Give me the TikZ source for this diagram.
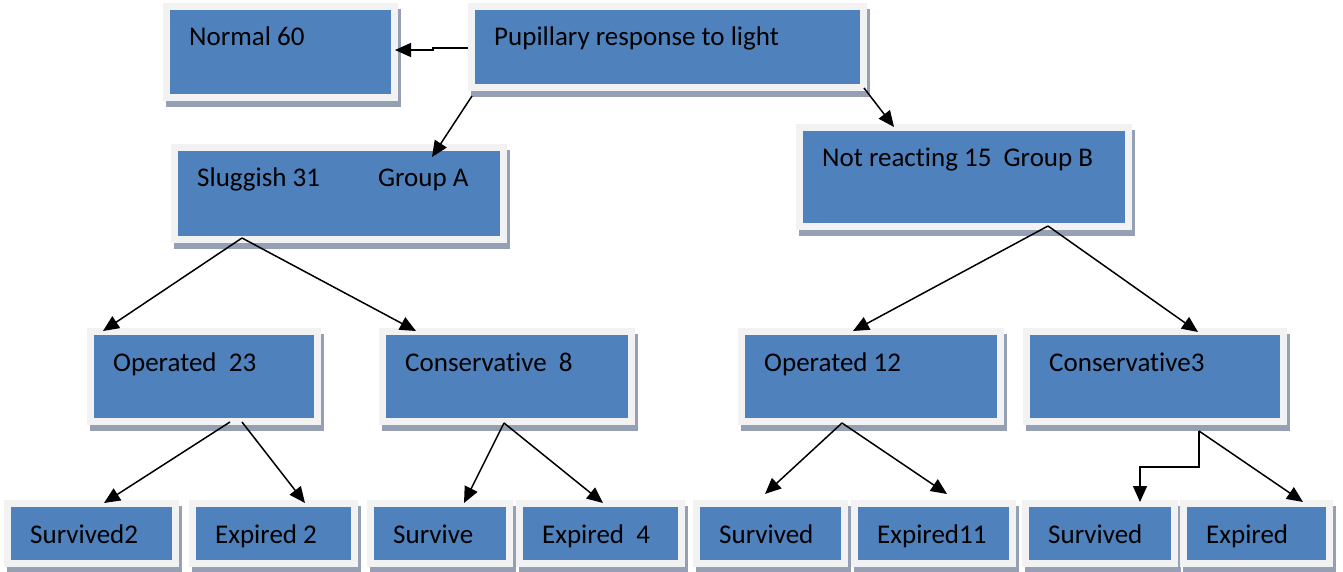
\documentclass[tikz,border=0pt]{standalone}
\usepackage{fontspec}
\setmainfont{Carlito}[RawFeature=-liga]
\usetikzlibrary{arrows.meta}
\definecolor{boxblue}{RGB}{79,129,189}
\definecolor{framegray}{RGB}{242,242,242}
\definecolor{shadowc}{RGB}{150,160,180}
\tikzset{
  framebox/.style={rectangle, fill=framegray, draw=none, inner sep=0pt, outer sep=0pt,
    path picture={\fill[boxblue] ([shift={(7pt,-7pt)}]path picture bounding box.north west)
      rectangle ([shift={(-7pt,7pt)}]path picture bounding box.south east);}},
  lbl/.style={anchor=base west, inner sep=0pt, font=\fontsize{27}{32}\selectfont, text=black},
  conn/.style={-{Triangle[length=16pt,width=14pt]}, line width=1.5pt, black}
}
\newcommand\diabox[6]{%
  \fill[shadowc] (#2+3,#3+6) rectangle (#4+3,#5+6);
  \node[framebox, minimum width={(#4-#2)*1pt}, minimum height={(#5-#3)*1pt}] (#1) at ({(#2+#4)/2},{(#3+#5)/2}) {};
  \node[lbl] (#1-t) at ([shift={(26,43)}]#1.north west) {#6};
}
\begin{document}
\begin{tikzpicture}[x=1pt,y=-1pt]
\useasboundingbox[fill=white] (0,0) rectangle (1343,572);
\diabox{normal}{163}{3}{398}{101}{Normal 60}
\diabox{pup}{468}{3}{867}{91}{Pupillary response to light}
\diabox{slug}{171}{144}{507}{243}{\makebox[181pt][l]{Sluggish 31}Group A}
\diabox{notr}{796}{124}{1132}{230}{Not reacting 15\ \ Group B}
\diabox{op23}{87}{328}{321}{425}{Operated\ \ 23}
\diabox{cons8}{379}{328}{635}{425}{Conservative\ \ 8}
\diabox{op12}{738}{328}{1004}{425}{Operated 12}
\diabox{cons3}{1023}{328}{1287}{425}{Conservative3}
\diabox{surv2}{4}{500}{179}{567}{Survived2}
\diabox{exp2}{189}{500}{358}{567}{Expired 2}
\diabox{surv}{367}{500}{513}{567}{Survive}
\diabox{exp4}{516}{500}{685}{567}{Expired\ \ 4}
\diabox{survb}{693}{500}{848}{567}{Survived}
\diabox{exp11}{851}{500}{1016}{567}{Expired11}
\diabox{survc}{1022}{500}{1178}{567}{Survived}
\diabox{expc}{1180}{500}{1333}{567}{Expired}
% connectors
\draw[conn] ([shift={(0,1)}]pup.west) -- ++(-35,0) -- ++(0,2) -- ([shift={(-3,-2)}]normal.east);
\draw[conn] ([shift={(4,5)}]pup.south west) -- ([shift={(261,13)}]slug.north west);
\draw[conn] ([shift={(-3,-3)}]pup.south east) -- ([shift={(98,3)}]notr.north west);
\draw[conn] ([shift={(71,-5)}]slug.south west) -- ([shift={(16,3)}]op23.north west);
\draw[conn] ([shift={(71,-5)}]slug.south west) -- ([shift={(37,3)}]cons8.north west);
\draw[conn] ([shift={(252,-4)}]notr.south west) -- ([shift={(115,3)}]op12.north west);
\draw[conn] ([shift={(252,-4)}]notr.south west) -- ([shift={(175,4)}]cons3.north west);
\draw[conn] ([shift={(143,-3)}]op23.south west) -- ([shift={(100,3)}]surv2.north west);
\draw[conn] ([shift={(155,-3)}]op23.south west) -- ([shift={(116,3)}]exp2.north west);
\draw[conn] ([shift={(125,-2)}]cons8.south west) -- ([shift={(97,3)}]surv.north west);
\draw[conn] ([shift={(125,-2)}]cons8.south west) -- ([shift={(87,3)}]exp4.north west);
\draw[conn] ([shift={(104,-2)}]op12.south west) -- ([shift={(72,-6)}]survb.north west);
\draw[conn] ([shift={(104,-2)}]op12.south west) -- ([shift={(96,-6)}]exp11.north west);
\draw[conn] ([shift={(176,6)}]cons3.south west) -- ++(0,36) -- ++(-59,0) -- ([shift={(118,2)}]survc.north west);
\draw[conn] ([shift={(176,6)}]cons3.south west) -- ([shift={(123,2)}]expc.north west);
\end{tikzpicture}
\end{document}
